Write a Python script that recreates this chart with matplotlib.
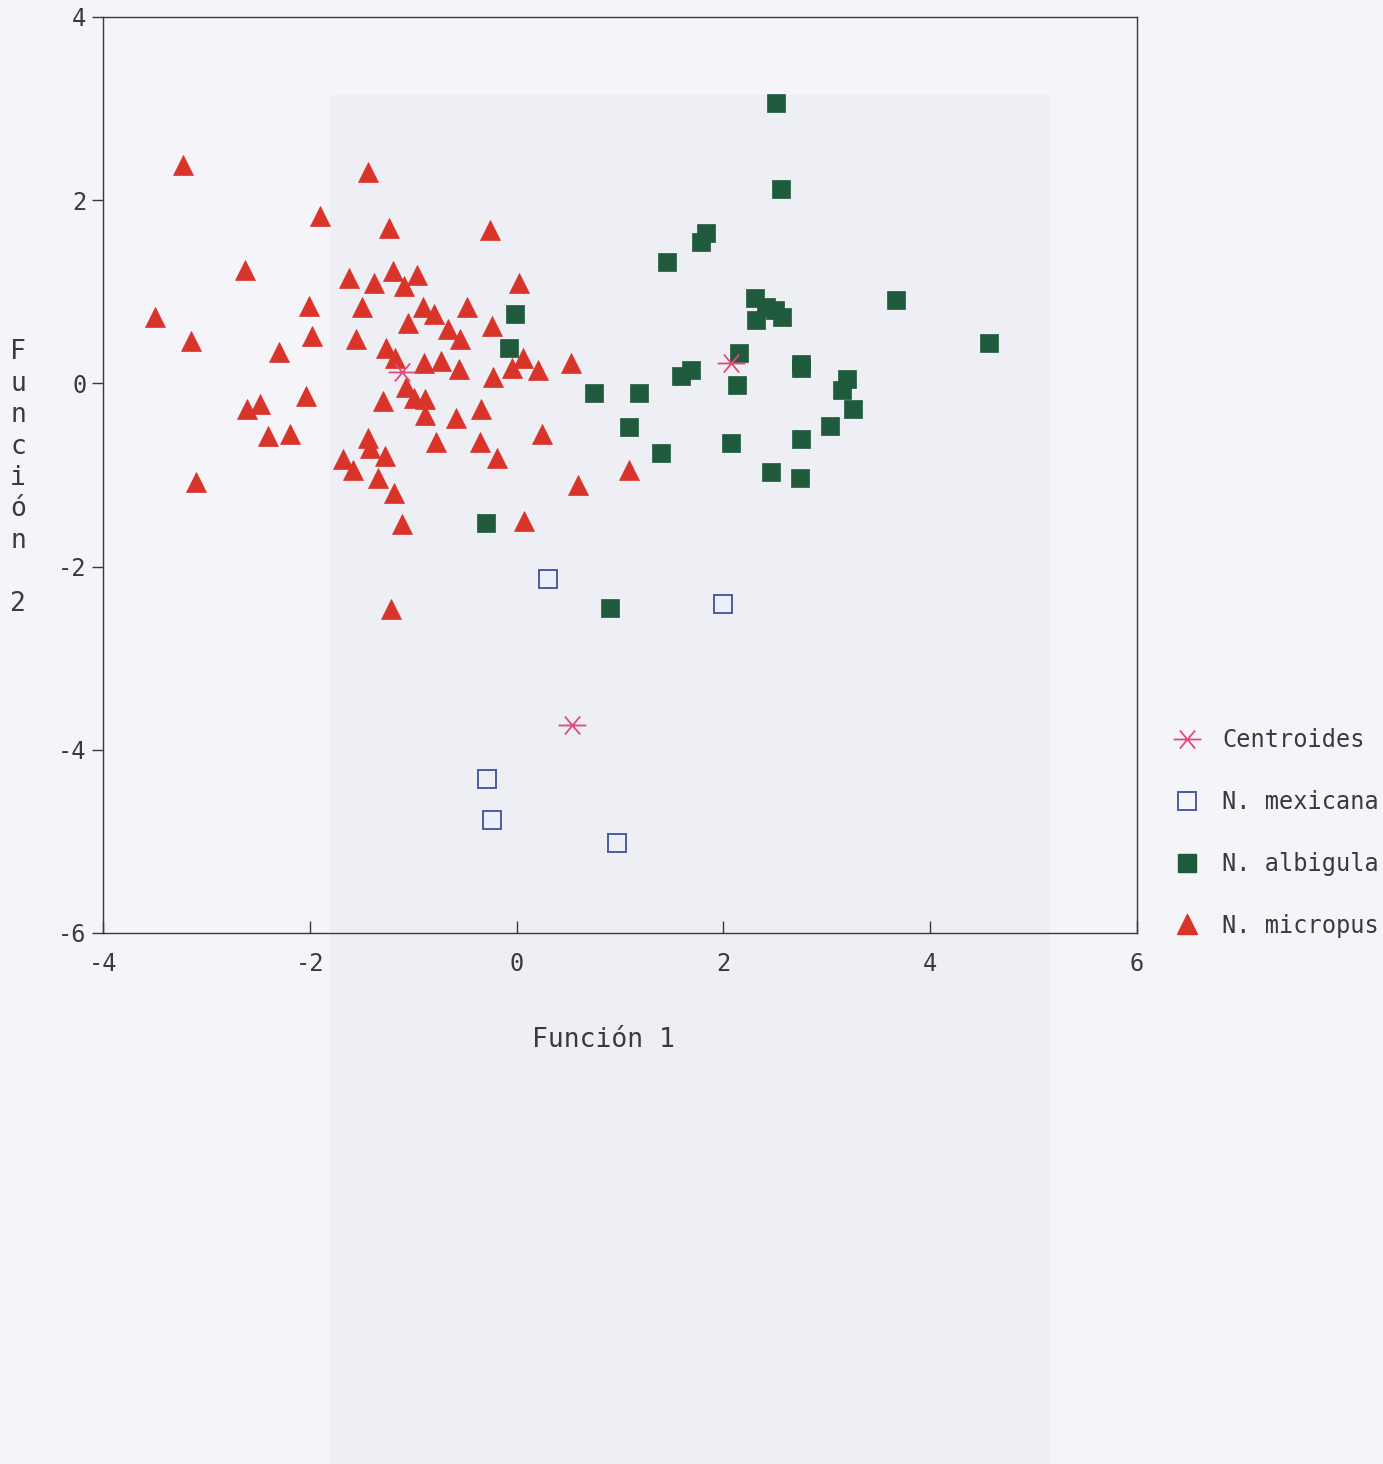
import matplotlib
matplotlib.use('Agg')
import matplotlib.pyplot as plt
from matplotlib.path import Path
from matplotlib.lines import Line2D
from matplotlib.patches import Rectangle

# ── Data ──────────────────────────────────────────────────────────────────────
micropus_x = [-3.23, -1.44, -1.90, -1.23, -0.26, -2.63, -1.62, -1.38, -1.20, -0.96,
              -1.09, 0.02, -3.50, -3.15, -2.01, -1.50, -0.91, -0.80, -0.48, -1.05,
              -0.66, -0.55, -0.24, -1.98, -1.55, -2.30, -1.26, -1.18, -0.90, -0.73,
              -0.56, -0.23, -0.04, 0.06, 0.21, 0.53, -1.07, -0.99, -0.89, -1.29,
              -2.04, -2.61, -2.48, -0.89, -0.59, -0.34, -2.40, -2.19, -1.44, -1.42,
              -0.78, -0.35, -0.19, 0.25, -1.68, -1.58, -1.27, -1.34, -1.19, -3.10,
              0.59, 1.09, -1.11, 0.07, -1.21]
micropus_y = [2.38, 2.31, 1.83, 1.70, 1.67, 1.24, 1.15, 1.10, 1.23, 1.18,
              1.06, 1.10, 0.72, 0.46, 0.85, 0.83, 0.83, 0.76, 0.83, 0.66,
              0.59, 0.49, 0.63, 0.52, 0.48, 0.34, 0.39, 0.28, 0.22, 0.24,
              0.16, 0.07, 0.17, 0.28, 0.15, 0.22, -0.04, -0.16, -0.17, -0.19,
              -0.14, -0.28, -0.22, -0.35, -0.38, -0.28, -0.57, -0.55, -0.60, -0.71,
              -0.64, -0.64, -0.81, -0.55, -0.82, -0.95, -0.79, -1.03, -1.20, -1.08,
              -1.11, -0.94, -1.53, -1.50, -2.46]

albigula_x = [2.51, 2.56, 1.83, 1.78, 1.45, 2.31, 2.41, 2.50, 2.57, 2.32,
              3.67, 4.57, -0.02, -0.07, 2.15, 2.75, 2.75, 1.69, 1.59, 2.13,
              3.20, 3.15, 0.75, 1.18, 3.25, 1.09, 3.03, 2.75, 2.07, 1.40,
              2.46, 2.74, -0.30, 0.90]
albigula_y = [3.06, 2.12, 1.64, 1.54, 1.33, 0.93, 0.83, 0.80, 0.72, 0.69,
              0.91, 0.44, 0.76, 0.39, 0.33, 0.21, 0.17, 0.15, 0.08, -0.02,
              0.05, -0.07, -0.10, -0.10, -0.28, -0.48, -0.47, -0.61, -0.65, -0.76,
              -0.97, -1.03, -1.52, -2.45]

mexicana_x = [0.30, 2.00, -0.29, -0.24, 0.97]
mexicana_y = [-2.13, -2.41, -4.32, -4.77, -5.02]

centroid_x = [-1.11, 2.07, 0.54]
centroid_y = [0.12, 0.22, -3.73]

x_ticks = [-4, -2, 0, 2, 4, 6]
y_ticks = [-6, -4, -2, 0, 2, 4]

# ── Style ─────────────────────────────────────────────────────────────────────
PAPER  = '#f4f4f9'
INK    = '#3a3a3a'
RED    = '#d8342a'
GREEN  = '#1f5a3c'
BLUE   = '#4b5aa6'
PINK   = '#e04a7e'
MONO   = 'DejaVu Sans Mono'

# six-armed asterisk: horizontal bar plus an x
star = Path([(-1.0, 0.0), (1.0, 0.0),
             (-0.55, -0.65), (0.55, 0.65),
             (-0.55, 0.65), (0.55, -0.65)],
            [Path.MOVETO, Path.LINETO] * 3)

fig = plt.figure(figsize=(13.83, 14.64), dpi=100, facecolor=PAPER)
# faint show-through of the scanned page
fig.patches.append(Rectangle((330 / 1383, 0), 720 / 1383, 1 - 95 / 1464,
                             transform=fig.transFigure, fc='#eeeef5', ec='none',
                             zorder=-10))

ax = fig.add_axes([103 / 1383, 1 - 933 / 1464, 1034 / 1383, 916 / 1464])
ax.set_facecolor('none')

ax.plot(micropus_x, micropus_y, ls='none', marker='^', ms=14.5,
        mfc=RED, mec=RED, mew=0.5)
ax.plot(albigula_x, albigula_y, ls='none', marker='s', ms=12.5,
        mfc=GREEN, mec=GREEN, mew=0.5)
ax.plot(mexicana_x, mexicana_y, ls='none', marker='s', ms=12.5,
        mfc='none', mec=BLUE, mew=1.4)
ax.plot(centroid_x, centroid_y, ls='none', marker=star, ms=20,
        mfc='none', mec=PINK, mew=1.3)

ax.set_xlim(-4, 6)
ax.set_ylim(-6, 4)
ax.set_xticks(x_ticks)
ax.set_yticks(y_ticks)
ax.set_xticklabels([str(t) for t in x_ticks], family=MONO, fontsize=17, color=INK)
ax.set_yticklabels([str(t) for t in y_ticks], family=MONO, fontsize=17, color=INK)
ax.tick_params(axis='x', direction='in', length=9, width=1, color=INK, pad=14)
ax.tick_params(axis='y', direction='out', length=8, width=1, color=INK, pad=4)
for spine in ax.spines.values():
    spine.set_color(INK)
    spine.set_linewidth(1.0)

fig.text(603 / 1383, 1 - 1040 / 1464, 'Función 1', family=MONO, fontsize=19,
         color=INK, ha='center', va='center')
fig.text(18 / 1383, 1 - 478 / 1464, 'F\nu\nn\nc\ni\nó\nn\n\n2', family=MONO,
         fontsize=19, color=INK, ha='center', va='center', linespacing=1.27)

handles = [
    Line2D([], [], ls='none', marker=star, ms=20, mfc='none', mec=PINK, mew=1.3),
    Line2D([], [], ls='none', marker='s', ms=12.5, mfc='none', mec=BLUE, mew=1.4),
    Line2D([], [], ls='none', marker='s', ms=12.5, mfc=GREEN, mec=GREEN),
    Line2D([], [], ls='none', marker='^', ms=14, mfc=RED, mec=RED),
]
labels = ['Centroides', 'N. mexicana', 'N. albigula', 'N. micropus']
fig.legend(handles, labels, loc='center left',
           bbox_to_anchor=(1163 / 1383, 1 - 833 / 1464), frameon=False,
           prop={'family': MONO, 'size': 17}, labelcolor=INK,
           labelspacing=1.6, handletextpad=0.9, handlelength=1.2,
           borderaxespad=0)

fig.savefig('out.png', dpi=100, facecolor=PAPER)
